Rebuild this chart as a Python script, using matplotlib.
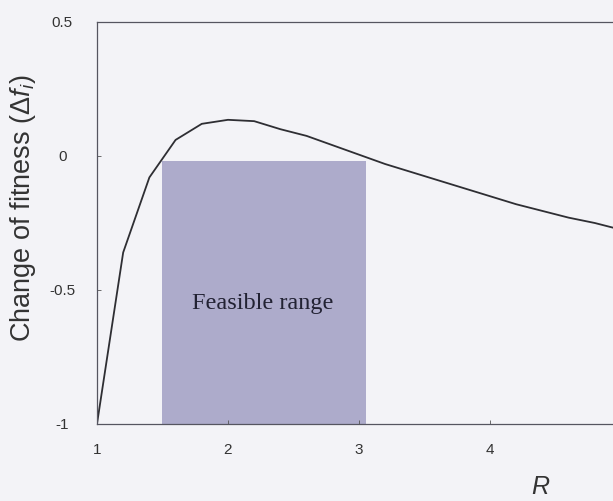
import matplotlib
matplotlib.use("Agg")
import matplotlib.pyplot as plt
from matplotlib.patches import Rectangle

# Data
r_values = [1.0, 1.2, 1.4, 1.6, 1.8, 2.0, 2.2, 2.4, 2.6, 2.8, 3.0,
            3.2, 3.4, 3.6, 3.8, 4.0, 4.2, 4.4, 4.6, 4.8, 5.0]
fitness_change = [-1.0, -0.36, -0.08, 0.06, 0.12, 0.135, 0.13, 0.10, 0.075, 0.04, 0.005,
                  -0.03, -0.06, -0.09, -0.12, -0.15, -0.18, -0.205, -0.23, -0.25, -0.275]
feasible_r = [1.5, 3.05]
feasible_top = -0.02
x_ticks = [1, 2, 3, 4, 5]
y_ticks = [-1, -0.5, 0, 0.5]
y_tick_labels = ["-1", "-0.5", "0", "0.5"]

plt.rcParams["font.family"] = ["Liberation Sans", "DejaVu Sans"]
plt.rcParams["mathtext.fontset"] = "custom"
plt.rcParams["mathtext.rm"] = "Liberation Sans"
plt.rcParams["mathtext.it"] = "Liberation Sans:italic"

bg = "#f3f3f7"
fig = plt.figure(figsize=(6.13, 5.01), dpi=100, facecolor=bg)
ax = fig.add_axes([0.1582, 0.1537, 0.8548, 0.8024])
ax.set_facecolor(bg)

# shaded feasible region
ax.add_patch(Rectangle((feasible_r[0], -1), feasible_r[1] - feasible_r[0], feasible_top + 1,
                       facecolor="#adabcb", edgecolor="none", zorder=1))
ax.text(sum(feasible_r) / 2 - 0.01, -0.55, "Feasible range", family="Liberation Serif",
        fontsize=17.5, color="#222233", ha="center", va="center", zorder=3)

ax.plot(r_values, fitness_change, color="#2e2e33", lw=1.3, zorder=2)

ax.set_xlim(1, 5)
ax.set_ylim(-1, 0.5)
ax.set_xticks(x_ticks)
ax.set_yticks(y_ticks)
ax.set_yticklabels(y_tick_labels)
for lbl in ax.get_yticklabels():
    lbl.set_horizontalalignment("center")
ax.tick_params(axis="y", direction="in", length=3, width=0.6, pad=25,
               labelsize=11, colors="#555555", labelcolor="#333333")
ax.tick_params(axis="x", direction="in", length=3, width=0.6, pad=14,
               labelsize=11, colors="#555555", labelcolor="#333333")

for side in ["left", "bottom", "top"]:
    ax.spines[side].set_color("#555560")
    ax.spines[side].set_linewidth(0.9)
ax.spines["right"].set_visible(False)

ax.set_ylabel(r"Change of fitness ($\Delta f_i$)", fontsize=19.5, color="#333333")
ax.yaxis.set_label_coords(-0.112, 0.536)
fig.text(0.8825, 0.013, r"$R$", fontsize=18, color="#333333", ha="center", va="baseline")

fig.savefig("out.png", dpi=100, facecolor=bg)
